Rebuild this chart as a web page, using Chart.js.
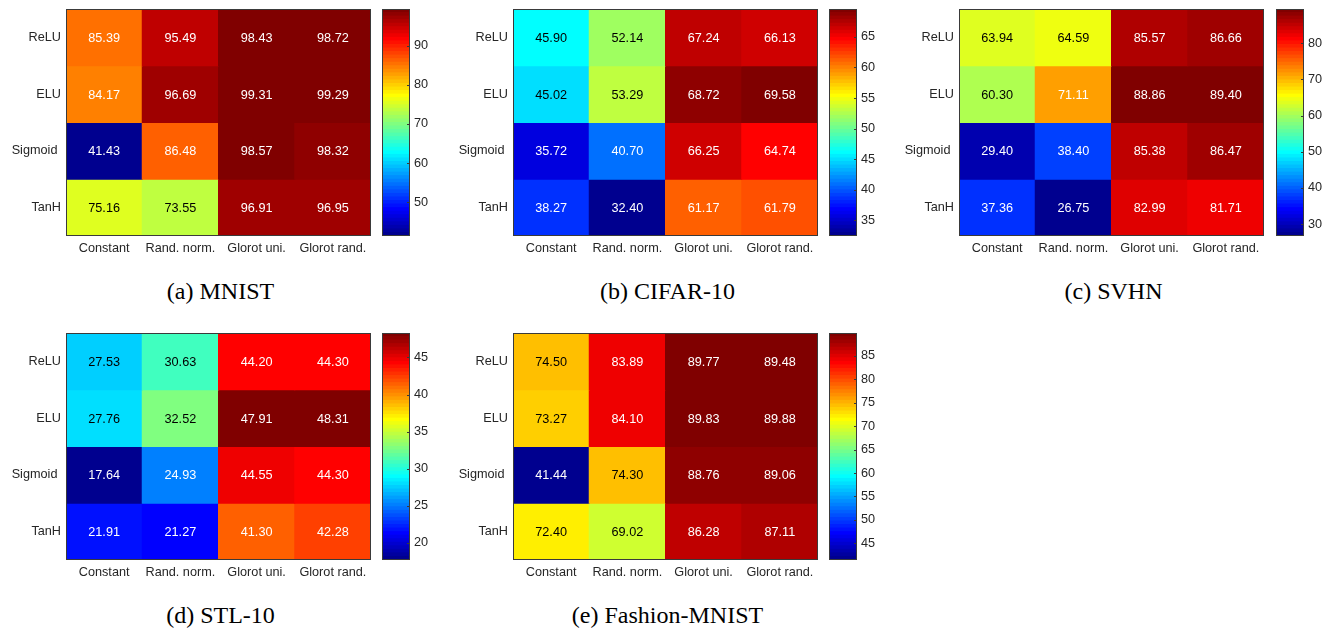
<!DOCTYPE html>
<html>
<head>
<meta charset="utf-8">
<script src="https://cdn.jsdelivr.net/npm/chart.js@4.4.1/dist/chart.umd.min.js"></script>
<style>
  html, body { margin: 0; padding: 0; background: #ffffff; }
  body { width: 1333px; height: 631px; position: relative; overflow: hidden; }
  .box { position: absolute; }
  .cap { position: absolute; font-family: "Liberation Serif", "Times New Roman", serif; font-size: 24px; color: #000; white-space: nowrap; transform: translate(-50%, -50%); line-height: 1; }
</style>
</head>
<body>
<script>
// ---------------- data ----------------
const initLabels = ["Constant", "Rand. norm.", "Glorot uni.", "Glorot rand."];
const activationLabels = ["ReLU", "ELU", "Sigmoid ", "TanH"];

const mnistValues = [
  [85.39, 95.49, 98.43, 98.72],
  [84.17, 96.69, 99.31, 99.29],
  [41.43, 86.48, 98.57, 98.32],
  [75.16, 73.55, 96.91, 96.95]
];
const cifarValues = [
  [45.90, 52.14, 67.24, 66.13],
  [45.02, 53.29, 68.72, 69.58],
  [35.72, 40.70, 66.25, 64.74],
  [38.27, 32.40, 61.17, 61.79]
];
const svhnValues = [
  [63.94, 64.59, 85.57, 86.66],
  [60.30, 71.11, 88.86, 89.40],
  [29.40, 38.40, 85.38, 86.47],
  [37.36, 26.75, 82.99, 81.71]
];
const stlValues = [
  [27.53, 30.63, 44.20, 44.30],
  [27.76, 32.52, 47.91, 48.31],
  [17.64, 24.93, 44.55, 44.30],
  [21.91, 21.27, 41.30, 42.28]
];
const fashionValues = [
  [74.50, 83.89, 89.77, 89.48],
  [73.27, 84.10, 89.83, 89.88],
  [41.44, 74.30, 88.76, 89.06],
  [72.40, 69.02, 86.28, 87.11]
];

const mnistTicks = [50, 60, 70, 80, 90];
const cifarTicks = [35, 40, 45, 50, 55, 60, 65];
const svhnTicks = [30, 40, 50, 60, 70, 80];
const stlTicks = [20, 25, 30, 35, 40, 45];
const fashionTicks = [45, 50, 55, 60, 65, 70, 75, 80, 85];

const captions = ["(a) MNIST", "(b) CIFAR-10", "(c) SVHN", "(d) STL-10", "(e) Fashion-MNIST"];

// ---------------- colormap (MATLAB jet, 64 levels) ----------------
const NLEV = 64;
function jetLevel(i) { // i: 1..64
  let r = 0, g = 0, b = 0;
  if (i <= 8) b = (i + 8) / 16; else if (i <= 23) b = 1; else if (i <= 39) b = (40 - i) / 16;
  if (i >= 9 && i <= 24) g = (i - 8) / 16; else if (i >= 25 && i <= 39) g = 1; else if (i >= 40 && i <= 55) g = (56 - i) / 16;
  if (i >= 25 && i <= 40) r = (i - 24) / 16; else if (i >= 41 && i <= 55) r = 1; else if (i >= 56) r = (72 - i) / 16;
  return `rgb(${Math.round(r * 255)},${Math.round(g * 255)},${Math.round(b * 255)})`;
}
function levelOf(v, lo, hi) {
  let idx = Math.floor((v - lo) / (hi - lo) * NLEV) + 1;
  return Math.max(1, Math.min(NLEV, idx));
}

const FONT = { family: '"Liberation Sans", Arial, Helvetica, sans-serif', size: 12.7 };
const TXT = '#262626';
const EDGE = '#3a3a3a';

function addCanvas(left, top, w, h) {
  const d = document.createElement('div');
  d.className = 'box';
  d.style.left = left + 'px'; d.style.top = top + 'px';
  d.style.width = w + 'px'; d.style.height = h + 'px';
  const c = document.createElement('canvas');
  c.width = w; c.height = h;
  c.style.width = w + 'px'; c.style.height = h + 'px';
  d.appendChild(c);
  document.body.appendChild(d);
  return c;
}

const borderPlugin = {
  id: 'boxBorder',
  afterDraw(chart) {
    const a = chart.chartArea, ctx = chart.ctx;
    ctx.save();
    ctx.strokeStyle = EDGE; ctx.lineWidth = 1;
    ctx.strokeRect(Math.round(a.left) + 0.5, Math.round(a.top) + 0.5, Math.round(a.right - a.left) - 1, Math.round(a.bottom - a.top) - 1);
    ctx.restore();
  }
};

function makePanel(values, ticks, caption, L, T, W, H, CBL, CBW) {
  const flat = values.flat();
  const lo = Math.min(...flat), hi = Math.max(...flat);
  const padTop = 16, yW = 66, xH = 30, padR = 4;

  // ---- heatmap ----
  const hc = addCanvas(L - yW, T - padTop, yW + W + padR, padTop + H + xH);
  const datasets = values.map((row, ri) => ({
    label: activationLabels[ri],
    data: row.map(() => [ri, ri + 1]),
    backgroundColor: row.map(v => jetLevel(levelOf(v, lo, hi))),
    borderWidth: 0,
    inflateAmount: 0.5,
    grouped: false,
    barPercentage: 1,
    categoryPercentage: 1
  }));
  const cellText = {
    id: 'cellText',
    afterDatasetsDraw(chart) {
      const ctx = chart.ctx;
      ctx.save();
      ctx.font = `${FONT.size}px ${FONT.family}`;
      ctx.textAlign = 'center'; ctx.textBaseline = 'middle';
      chart.data.datasets.forEach((ds, ri) => {
        chart.getDatasetMeta(ri).data.forEach((el, ci) => {
          const v = values[ri][ci];
          const t = (v - lo) / (hi - lo);
          ctx.fillStyle = (t > 0.28 && t < 0.695) ? '#000000' : '#ffffff';
          ctx.fillText(v.toFixed(2), el.x, (el.y + el.base) / 2 + 1);
        });
      });
      ctx.restore();
    }
  };
  new Chart(hc, {
    type: 'bar',
    data: { labels: initLabels, datasets },
    options: {
      responsive: false, animation: false, events: [],
      layout: { autoPadding: false, padding: { top: padTop, right: padR, left: 0, bottom: 0 } },
      plugins: { legend: { display: false }, tooltip: { enabled: false } },
      scales: {
        x: {
          type: 'category', position: 'bottom', offset: true,
          grid: { display: false, drawTicks: false }, border: { display: false },
          ticks: { font: FONT, color: TXT, padding: 5, maxRotation: 0, autoSkip: false },
          afterFit: s => { s.height = xH; }
        },
        y: { type: 'linear', min: 0, max: 4, reverse: true, display: false },
        yr: {
          type: 'category', labels: activationLabels, position: 'left', offset: true,
          grid: { display: false, drawTicks: false }, border: { display: false },
          ticks: { font: FONT, color: TXT, padding: 5, autoSkip: false },
          afterFit: s => { s.width = yW; }
        }
      }
    },
    plugins: [cellText, borderPlugin]
  });

  // ---- colorbar ----
  const cbW2 = 44;
  const cc = addCanvas(CBL, T - padTop, CBW + cbW2, padTop + H + 16);
  const bands = [];
  for (let k = 1; k <= NLEV; k++) {
    bands.push({
      data: [[lo + (k - 1) * (hi - lo) / NLEV, lo + k * (hi - lo) / NLEV]],
      backgroundColor: jetLevel(k),
      borderWidth: 0, inflateAmount: 0.5,
      grouped: false, barPercentage: 1, categoryPercentage: 1
    });
  }
  const cbTicks = {
    id: 'cbTicks',
    afterDraw(chart) {
      const s = chart.scales.y, a = chart.chartArea, ctx = chart.ctx;
      ctx.save();
      ctx.strokeStyle = EDGE; ctx.lineWidth = 1;
      ticks.forEach(v => {
        const py = Math.round(s.getPixelForValue(v)) + 0.5;
        ctx.beginPath();
        ctx.moveTo(Math.round(a.right) - 3, py);
        ctx.lineTo(Math.round(a.right), py);
        ctx.stroke();
      });
      ctx.restore();
    }
  };
  new Chart(cc, {
    type: 'bar',
    data: { labels: [''], datasets: bands },
    options: {
      responsive: false, animation: false, events: [],
      layout: { autoPadding: false, padding: { top: padTop, right: 0, left: 0, bottom: 16 } },
      plugins: { legend: { display: false }, tooltip: { enabled: false } },
      scales: {
        x: { type: 'category', display: false, offset: true },
        y: {
          type: 'linear', min: lo, max: hi, position: 'right',
          grid: { display: false, drawTicks: false }, border: { display: false },
          ticks: { font: FONT, color: TXT, padding: 4 },
          afterBuildTicks: s => { s.ticks = ticks.map(v => ({ value: v })); },
          afterFit: s => { s.width = cbW2; }
        }
      }
    },
    plugins: [cbTicks, borderPlugin]
  });

  // ---- caption ----
  const cap = document.createElement('div');
  cap.className = 'cap';
  cap.textContent = caption;
  cap.style.left = (L + W / 2 + 2) + 'px';
  cap.style.top = (T + H + 55) + 'px';
  document.body.appendChild(cap);
}

makePanel(mnistValues, mnistTicks, captions[0], 66, 9, 305, 227, 382, 28);
makePanel(cifarValues, cifarTicks, captions[1], 513, 9, 305, 227, 829, 28);
makePanel(svhnValues, svhnTicks, captions[2], 959, 9, 305, 227, 1276, 28);
makePanel(stlValues, stlTicks, captions[3], 66, 333, 305, 227, 382, 28);
makePanel(fashionValues, fashionTicks, captions[4], 513, 333, 305, 227, 829, 28);
</script>
</body>
</html>
